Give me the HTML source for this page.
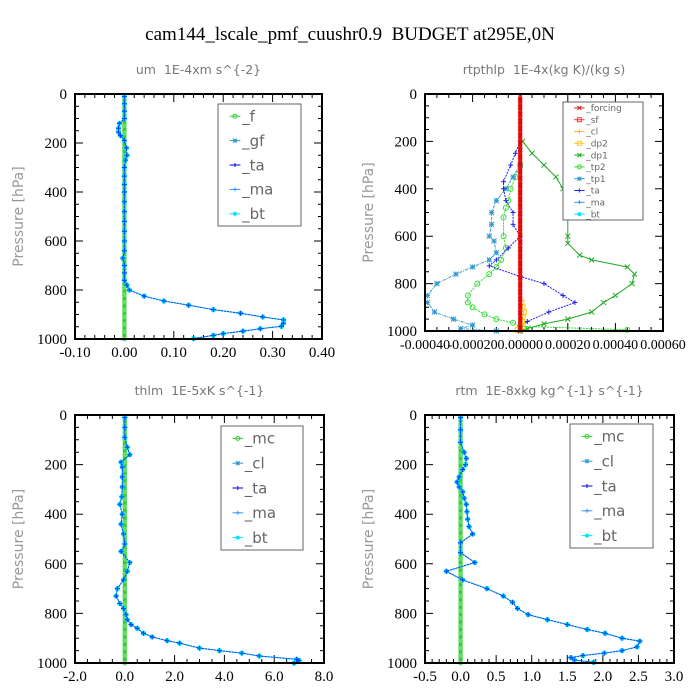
<!DOCTYPE html>
<html><head><meta charset="utf-8"><style>
html,body{margin:0;padding:0;background:#fff;width:700px;height:700px;overflow:hidden}
svg{display:block}
text{white-space:pre}
</style></head><body>
<svg id="chart" width="700" height="700" xmlns="http://www.w3.org/2000/svg">
<text x="350" y="40" text-anchor="middle" font-family="Liberation Serif, serif" font-size="19">cam144_lscale_pmf_cuushr0.9  BUDGET at295E,0N</text>
</svg>
<script>
// ---------- data ----------
const yTicks = [0, 200, 400, 600, 800, 1000];
const umTicks = [-0.1, 0.0, 0.1, 0.2, 0.3, 0.4];
const umTickLabels = ["-0.10","0.00","0.10","0.20","0.30","0.40"];
const umP  = [10,40,70,100,120,140,155,170,190,220,250,270,300,335,370,400,440,480,520,560,600,640,670,700,730,760,780,800,825,845,862,880,895,910,922,935,948,958,968,978,985,998];
const umBt = [0,0,0,0,-0.01,-0.012,-0.012,-0.008,0,0.004,0.005,0.002,0,0,0,0,0,0,0,0,0,0,-0.003,0,0,0,0.005,0.01,0.04,0.08,0.13,0.18,0.235,0.28,0.322,0.322,0.318,0.275,0.24,0.20,0.18,0.14];

const rtTicks = [-0.0004,-0.0002,0,0.0002,0.0004,0.0006];
const rtTickLabels = ["-0.00040","-0.00020","0.00000","0.00020","0.00040","0.00060"];
const dp1P = [200,250,300,350,400,450,500,520,600,630,680,700,730,760,800,850,880,920,950,970,990,1000];
const dp1V = [0.00001,0.00005,0.0001,0.00015,0.00018,0.00019,0.0002,0.0002,0.0002,0.0002,0.00025,0.0003,0.00045,0.00048,0.00047,0.0004,0.00035,0.0003,0.0002,0.0001,0.00003,0];
const tp2P = [300,350,400,450,480,520,600,650,700,730,760,800,850,880,900,930,950,965,980,995];
const tp2V = [0,-0.00002,-0.00004,-0.00005,-0.00006,-0.00007,-0.00007,-0.00006,-0.00008,-0.0001,-0.00013,-0.00018,-0.00022,-0.00022,-0.0002,-0.00015,-0.0001,-0.00003,0,0.00045];
const tp1P = [300,350,400,450,500,550,600,620,670,700,730,760,800,850,880,920,950,975,990,1000];
const tp1V = [0,-0.00003,-0.00006,-0.0001,-0.00012,-0.00012,-0.00013,-0.00011,-0.0001,-0.00013,-0.0002,-0.00027,-0.00035,-0.00039,-0.00039,-0.00036,-0.00028,-0.0002,-0.00025,-0.0001];
const taP  = [200,250,300,370,400,450,500,550,600,650,700,725,770,800,850,880,920,960,980,1000];
const taV  = [0,-0.00002,-0.00004,-0.00007,-0.00007,-0.00006,-0.00003,-0.00003,0,-0.00005,-0.0001,-0.00013,0,0.0001,0.00018,0.00023,0.00012,0.00003,0,0];
const dp2P = [880,900,920,940,960,980,995];
const dp2V = [0.000005,0.00001,0.000015,0.00001,0.000008,0.00001,-0.00001];

const thTicks = [-2,0,2,4,6,8];
const thTickLabels = ["-2.0","0.0","2.0","4.0","6.0","8.0"];
const thP  = [10,50,90,130,160,190,210,250,290,330,360,400,440,480,520,550,595,630,665,700,730,760,780,805,825,845,860,880,895,910,920,940,950,960,972,985,990,1000];
const thBt = [0,0,0,0.1,0.2,-0.15,-0.1,-0.1,-0.1,-0.12,-0.2,-0.1,-0.15,-0.05,0,-0.15,0.2,0.1,-0.05,-0.3,-0.35,-0.2,-0.05,0.05,0.1,0.25,0.5,0.75,1.1,1.7,2.2,3.0,3.8,4.7,5.4,6.9,7.0,6.8];

const rtmTicks = [-0.5,0,0.5,1,1.5,2,2.5,3];
const rtmTickLabels = ["-0.5","0.0","0.5","1.0","1.5","2.0","2.5","3.0"];
const rtmP  = [10,60,110,150,175,200,220,250,270,290,310,335,360,390,420,450,480,515,555,595,630,665,700,730,755,780,805,825,845,865,880,900,912,935,950,960,970,978,988,997];
const rtmBt = [0,0,0,0.05,0.08,0.07,0.03,-0.02,-0.05,-0.02,0.03,0.05,0.08,0.09,0.1,0.12,0.17,0,0,0.2,-0.2,0.03,0.37,0.6,0.73,0.8,0.95,1.22,1.5,1.78,2.03,2.27,2.52,2.48,2.27,2.02,1.72,1.55,1.6,1.87];

const zeroP = [10,40,70,100,130,160,190,220,250,280,310,340,370,400,430,460,490,520,550,580,610,640,670,700,730,760,790,820,850,880,910,940,970,1000];

// ---------- drawing ----------
const NS = "http://www.w3.org/2000/svg";
const svg = document.getElementById('chart');
function mk(tag, attrs, parent){const e=document.createElementNS(NS,tag);for(const k in attrs)e.setAttribute(k,attrs[k]);(parent||svg).appendChild(e);return e;}

function marker(g, shape, x, y, color, s){
  s = s||2.5;
  if(shape==='circle'){mk('circle',{cx:x,cy:y,r:s,fill:'none',stroke:color,'stroke-width':1},g);}
  else if(shape==='dot'){mk('circle',{cx:x,cy:y,r:s,fill:color},g);}
  else if(shape==='plus'){mk('path',{d:`M${x-s} ${y}H${x+s}M${x} ${y-s}V${y+s}`,stroke:color,'stroke-width':1},g);}
  else if(shape==='x'){mk('path',{d:`M${x-s} ${y-s}L${x+s} ${y+s}M${x-s} ${y+s}L${x+s} ${y-s}`,stroke:color,'stroke-width':1},g);}
  else if(shape==='star'){mk('path',{d:`M${x-s} ${y}H${x+s}M${x} ${y-s}V${y+s}M${x-s} ${y-s}L${x+s} ${y+s}M${x-s} ${y+s}L${x+s} ${y-s}`,stroke:color,'stroke-width':1},g);}
  else if(shape==='square'){mk('rect',{x:x-s,y:y-s,width:2*s,height:2*s,fill:'none',stroke:color,'stroke-width':1},g);}
}

function panel(o){
  const g = mk('g',{});
  
  
  const X = v => o.x0 + (v - o.xmin)/(o.xmax - o.xmin)*(o.x1 - o.x0);
  const Y = p => o.y0 + p/1000*(o.y1 - o.y0);
  const t = mk('text',{x:(o.x0+o.x1)/2,y:o.y0-20,'text-anchor':'middle','font-family':'DejaVu Sans, sans-serif','font-size':12.5,fill:'#777'},g);
  t.textContent = o.title;
  
  
  const yl = mk('text',{x:0,y:0,'text-anchor':'middle','font-family':'DejaVu Sans, sans-serif','font-size':14,fill:'#999'},g);
  yl.setAttribute('transform',`translate(${o.x0-52},${(o.y0+o.y1)/2}) rotate(-90)`);
  yl.textContent = 'Pressure [hPa]';
  
  
  let d='';
  for(let p=0;p<=1000;p+=50){const y=Y(p);const L=(p%200===0)?8:4;d+=`M${o.x0} ${y}h${L}M${o.x1} ${y}h${-L}`;}
  const nMinor = o.minor;
  for(let i=0;i<o.xticks.length;i++){const x=X(o.xticks[i]);d+=`M${x} ${o.y1}v-8M${x} ${o.y0}v8`;
    if(i<o.xticks.length-1){const st=(o.xticks[i+1]-o.xticks[i])/nMinor;for(let k=1;k<nMinor;k++){const xm=X(o.xticks[i]+st*k);d+=`M${xm} ${o.y1}v-4M${xm} ${o.y0}v4`;}}}
  mk('path',{d:d,stroke:'#000','stroke-width':1,fill:'none'},g);
  yTicks.forEach(p=>{const tx=mk('text',{x:o.x0-8,y:Y(p)+5,'text-anchor':'end','font-family':'Liberation Serif, serif','font-size':15},g);tx.textContent=String(p);
    });
  o.xticks.forEach((v,i)=>{const tx=mk('text',{x:X(v),y:o.y1+18,'text-anchor':'middle','font-family':'Liberation Serif, serif','font-size':o.xfs||15},g);tx.textContent=o.xlabels[i];
    });
  o.series.forEach(s=>{
    const sg = mk('g',{},g);
    
    
    const pts = s.p.map((p,i)=>[X(s.v[i]),Y(p)]);
    mk('polyline',{points:pts.map(q=>q.join(',')).join(' '),fill:'none',stroke:s.color,'stroke-width':s.w||1,'stroke-dasharray':s.dash||''},sg);
    if(s.shape) pts.forEach(q=>marker(sg,s.shape,q[0],q[1],s.mcolor||s.color,s.ms));
  });
  mk('rect',{x:o.x0,y:o.y0,width:o.x1-o.x0,height:o.y1-o.y0,fill:'none',stroke:'#000','stroke-width':2},g);
  const L=o.legend;
  const lg = mk('g',{},g);
  
  
  mk('rect',{x:L.x,y:L.y,width:L.w,height:L.h,fill:'#fff',stroke:'#666','stroke-width':1},lg);
  const step = L.h/L.items.length;
  L.items.forEach((it,i)=>{
    const cy = L.y + step*(i+0.5);
    mk('line',{x1:L.x+L.w*0.14,x2:L.x+L.w*0.27,y1:cy,y2:cy,stroke:it.color,'stroke-width':1},lg);
    marker(lg,it.shape,L.x+L.w*0.205,cy,it.color,2);
    const tx=mk('text',{x:L.x+L.w*0.29,y:cy+L.fs*0.35,'font-family':'DejaVu Sans, sans-serif','font-size':L.fs,fill:'#666'},lg);
    tx.textContent=it.label;
    
  });
}
const zeros = zeroP.map(()=>0);
const std5 = ()=>[{label:'_f',color:'#33cc33',shape:'circle'},{label:'_gf',color:'#3399cc',shape:'star'},{label:'_ta',color:'#0000ee',shape:'plus'},{label:'_ma',color:'#3399ff',shape:'plus'},{label:'_bt',color:'#00e5ff',shape:'dot'}];

function bluePair(p,v){return [
  {label:'_ta',p:[p[p.length-1],1000,1000],v:[v[v.length-1],v[v.length-1],0],color:'#0000ee',dash:'1,2'},
  {label:'_bt',p:p,v:v,color:'#00ccff',w:1,shape:'dot',mcolor:'#00e5ff',ms:2.6},
  {label:'_cl',p:p,v:v,color:'#0044ee',w:1,dash:'2,1',shape:'plus',ms:2.5}];}

panel({name:'um-panel',title:'um  1E-4xm s^{-2}',x0:75,x1:322,y0:94,y1:339,xmin:-0.1,xmax:0.4,xticks:umTicks,xlabels:umTickLabels,minor:5,
  series:[{label:'_f',p:zeroP,v:zeros,color:'#33cc33',w:4,shape:'dot',mcolor:'#66dd66',ms:2.4}].concat(bluePair(umP,umBt)),
  legend:{x:218,y:104,w:83,h:122,fs:15,items:std5()}});

panel({name:'rtpthlp-panel',title:'rtpthlp  1E-4x(kg K)/(kg s)',x0:425,x1:663,y0:94,y1:331,xmin:-0.0004,xmax:0.0006,xticks:rtTicks,xlabels:rtTickLabels,minor:4,xfs:14,
  series:[
    {label:'_dp1',p:dp1P,v:dp1V,color:'#22aa22',shape:'x'},
    {label:'_tp2',p:tp2P,v:tp2V,color:'#33dd33',dash:'2,1',shape:'circle'},
    {label:'_tp1',p:tp1P,v:tp1V,color:'#3399cc',dash:'3,1,1,1',shape:'star'},
    {label:'_ta',p:taP,v:taV,color:'#2222ee',dash:'2,1',shape:'plus'},
    {label:'_dp2',p:dp2P,v:dp2V,color:'#ffcc00',shape:'square'},
    {label:'_forcing',p:zeroP,v:zeros,color:'#ee0000',w:4,shape:'x',mcolor:'#cc2222',ms:2.2}],
  legend:{x:563,y:102,w:80,h:118,fs:9,items:[{label:'_forcing',color:'#dd2222',shape:'x'},{label:'_sf',color:'#ff3333',shape:'square'},{label:'_cl',color:'#ffaa33',shape:'plus'},{label:'_dp2',color:'#ffcc00',shape:'square'},{label:'_dp1',color:'#22aa22',shape:'x'},{label:'_tp2',color:'#33dd33',shape:'circle'},{label:'_tp1',color:'#3399cc',shape:'star'},{label:'_ta',color:'#2222ee',shape:'plus'},{label:'_ma',color:'#3399ff',shape:'plus'},{label:'_bt',color:'#00e5ff',shape:'dot'}]}});

const mc5 = [{label:'_mc',color:'#33cc33',shape:'circle'},{label:'_cl',color:'#3399cc',shape:'star'},{label:'_ta',color:'#0000ee',shape:'plus'},{label:'_ma',color:'#3399ff',shape:'plus'},{label:'_bt',color:'#00e5ff',shape:'dot'}];
panel({name:'thlm-panel',title:'thlm  1E-5xK s^{-1}',x0:75,x1:324,y0:415,y1:663,xmin:-2,xmax:8,xticks:thTicks,xlabels:thTickLabels,minor:4,
  series:[{label:'_mc',p:zeroP,v:zeros,color:'#33cc33',w:4,shape:'dot',mcolor:'#66dd66',ms:2.4}].concat(bluePair(thP,thBt)),
  legend:{x:221,y:426,w:82,h:124,fs:15,items:mc5}});

panel({name:'rtm-panel',title:'rtm  1E-8xkg kg^{-1} s^{-1}',x0:425,x1:674,y0:415,y1:663,xmin:-0.5,xmax:3,xticks:rtmTicks,xlabels:rtmTickLabels,minor:5,
  series:[{label:'_mc',p:zeroP,v:zeros,color:'#33cc33',w:4,shape:'dot',mcolor:'#66dd66',ms:2.4}].concat(bluePair(rtmP,rtmBt)),
  legend:{x:570,y:424,w:83,h:124,fs:15,items:mc5}});
</script>
</body></html>
